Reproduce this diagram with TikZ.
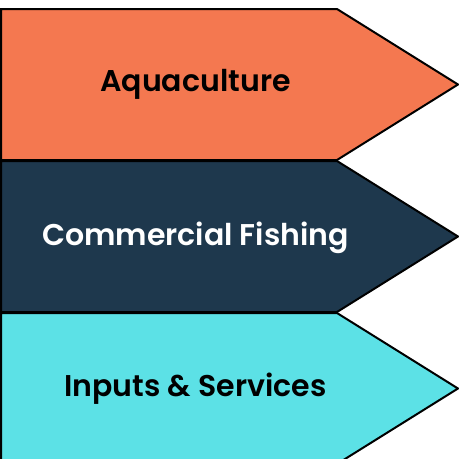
\documentclass[tikz,border=0pt]{standalone}
\usepackage{fontspec}
\setmainfont{Poppins}[BoldFont={Poppins SemiBold}]
\usepackage{tikz}

\definecolor{aquaorange}{HTML}{F47850}
\definecolor{fishnavy}{HTML}{1E384D}
\definecolor{inputcyan}{HTML}{5CE1E6}

\begin{document}
\begin{tikzpicture}[x=1pt, y=-1pt, line width=2pt, line join=miter,
  chevron/.style={draw=black},
  label text/.style={font=\fontsize{30}{34}\selectfont\bfseries, anchor=base}]

\useasboundingbox (0,0) rectangle (459,459);

\draw[chevron, fill=aquaorange] (1,9) -- (337,9) -- (458,84.5) -- (337,160) -- (1,160) -- cycle;
\draw[chevron, fill=fishnavy] (1,161) -- (337,161) -- (458,236.5) -- (337,312) -- (1,312) -- cycle;
\draw[chevron, fill=inputcyan] (1,313) -- (337,313) -- (458,388.5) -- (337,464) -- (1,464) -- cycle;

\node[label text, text=black](aqua) at (195.5,91) {Aquaculture};
\node[label text, text=white](fish) at (195.5,245) {Commercial Fishing};
\node[label text, text=black](inputs) at (195.5,396) {Inputs \& Services};

\end{tikzpicture}
\end{document}
